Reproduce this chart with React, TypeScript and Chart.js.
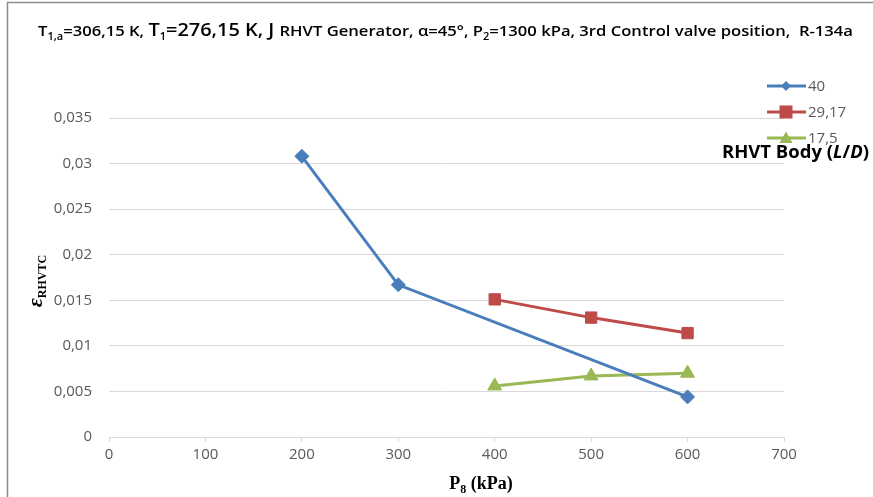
import React, { useEffect, useRef } from "react";
import { Chart, registerables } from "chart.js";

Chart.register(...registerables);

const seriesNames = ["40", "29,17", "17,5"];
const p8_40 = [200, 300, 600];
const eps_40 = [0.0308, 0.0167, 0.0044];
const p8_2917 = [400, 500, 600];
const eps_2917 = [0.0151, 0.0131, 0.0114];
const p8_175 = [400, 500, 600];
const eps_175 = [0.0056, 0.0067, 0.0070];
const colors = ["#4a7ebb", "#be4b48", "#98b954"];
const markers = ["rectRot", "rect", "triangle"];
const markerRadius = [7, 8, 8];

const W = 873;
const H = 497;

type Seg = { t: string; f: string; dy?: number };

function richWidth(ctx: CanvasRenderingContext2D, segs: Seg[]) {
  let w = 0;
  for (const s of segs) {
    ctx.font = s.f;
    w += ctx.measureText(s.t).width;
  }
  return w;
}

function drawRich(
  ctx: CanvasRenderingContext2D,
  segs: Seg[],
  x: number,
  y: number,
  color: string,
  targetWidth?: number
) {
  const w = richWidth(ctx, segs);
  const sx = targetWidth ? targetWidth / w : 1;
  ctx.save();
  ctx.translate(x, y);
  ctx.scale(sx, 1);
  ctx.fillStyle = color;
  ctx.textBaseline = "alphabetic";
  ctx.textAlign = "left";
  let cx = 0;
  for (const s of segs) {
    ctx.font = s.f;
    ctx.fillText(s.t, cx, s.dy || 0);
    cx += ctx.measureText(s.t).width;
  }
  ctx.restore();
  return w * sx;
}

const TF = "'Open Sans', 'Liberation Sans', sans-serif";
const HF = "'Liberation Sans Narrow', 'Open Sans', 'Liberation Sans', sans-serif";

function drawMarker(ctx: CanvasRenderingContext2D, type: string, x: number, y: number, r: number) {
  ctx.beginPath();
  if (type === "rectRot") {
    ctx.moveTo(x, y - r);
    ctx.lineTo(x + r, y);
    ctx.lineTo(x, y + r);
    ctx.lineTo(x - r, y);
  } else if (type === "rect") {
    ctx.rect(x - r, y - r, 2 * r, 2 * r);
  } else {
    ctx.moveTo(x, y - r);
    ctx.lineTo(x + r, y + r * 0.75);
    ctx.lineTo(x - r, y + r * 0.75);
  }
  ctx.closePath();
  ctx.fill();
}

const decorPlugin = {
  id: "decor",
  afterDraw(chart: any) {
    const ctx: CanvasRenderingContext2D = chart.ctx;
    ctx.save();
    // frame
    ctx.strokeStyle = "#8c8c8c";
    ctx.lineWidth = 1.5;
    ctx.beginPath();
    ctx.moveTo(7.5, H + 5);
    ctx.lineTo(7.5, 2.5);
    ctx.lineTo(W + 5, 2.5);
    ctx.stroke();

    // title
    const n = `600 15px ${TF}`;
    const nb = `600 18px ${TF}`;
    const sm = `600 10px ${TF}`;
    const title: Seg[] = [
      { t: "T", f: n },
      { t: "1,a", f: sm, dy: 4 },
      { t: "=306,15 K, ", f: n },
      { t: "T", f: nb },
      { t: "1", f: sm, dy: 4 },
      { t: "=276,15 K, J ", f: nb },
      { t: "RHVT Generator, α=45°, P", f: n },
      { t: "2", f: sm, dy: 4 },
      { t: "=1300 kPa, 3rd Control valve position,  R-134a", f: n },
    ];
    drawRich(ctx, title, 38, 36, "#000000", 815);

    // legend
    const ly = [86, 112, 138];
    for (let i = 0; i < 3; i++) {
      const y = ly[i];
      ctx.strokeStyle = colors[i];
      ctx.lineWidth = 3;
      ctx.beginPath();
      ctx.moveTo(767, y);
      ctx.lineTo(806, y);
      ctx.stroke();
      ctx.fillStyle = colors[i];
      drawMarker(ctx, markers[i], 786, y, i === 0 ? 5 : 6.5);
      ctx.fillStyle = "#595959";
      ctx.font = `15px ${TF}`;
      ctx.textBaseline = "middle";
      ctx.textAlign = "left";
      ctx.fillText(seriesNames[i], 808, y + 1);
    }
    // legend caption
    const cb = `bold 17px ${HF}`;
    const cbi = `italic bold 17px ${HF}`;
    drawRich(
      ctx,
      [
        { t: "RHVT Body (", f: cb },
        { t: "L", f: cbi },
        { t: "/", f: cb },
        { t: "D", f: cbi },
        { t: ")", f: cb },
      ],
      722,
      158,
      "#000000",
      147
    );

    // x axis title
    const xf = "bold 18px 'Liberation Serif', 'Times New Roman', serif";
    const xs = "bold 12px 'Liberation Serif', 'Times New Roman', serif";
    const xsegs: Seg[] = [
      { t: "P", f: xf },
      { t: "8", f: xs, dy: 4 },
      { t: " (kPa)", f: xf },
    ];
    const xw = richWidth(ctx, xsegs);
    drawRich(ctx, xsegs, 481 - xw / 2, 489, "#000000");

    // y axis title
    ctx.save();
    ctx.translate(42, 281);
    ctx.rotate(-Math.PI / 2);
    const ysegs: Seg[] = [
      { t: "ε", f: "italic bold 22px 'Liberation Serif', 'DejaVu Serif', serif" },
      { t: "RHVTC", f: "bold 12px 'Liberation Serif', serif", dy: 4 },
    ];
    const yw = richWidth(ctx, ysegs);
    drawRich(ctx, ysegs, -yw / 2, 0, "#000000");
    ctx.restore();

    ctx.restore();
  },
};

function fmtY(v: number) {
  return String(Number(v.toFixed(4))).replace(".", ",");
}

export default function App() {
  const ref = useRef<HTMLCanvasElement>(null);
  useEffect(() => {
    if (!ref.current) return;
    const xs = [p8_40, p8_2917, p8_175];
    const ys = [eps_40, eps_2917, eps_175];
    const datasets = seriesNames.map((name, i) => ({
      label: name,
      data: xs[i].map((x, j) => ({ x, y: ys[i][j] })),
      borderColor: colors[i],
      backgroundColor: colors[i],
      borderWidth: 3,
      pointStyle: markers[i] as any,
      pointRadius: markerRadius[i],
      pointBorderWidth: 1,
      showLine: true,
      tension: 0,
    }));
    const chart = new Chart(ref.current, {
      type: "scatter",
      data: { datasets },
      options: {
        responsive: false,
        animation: false,
        devicePixelRatio: 1,
        layout: { padding: { top: 118, right: 89, bottom: 0, left: 0 } },
        plugins: {
          legend: { display: false },
          tooltip: { enabled: false },
        },
        scales: {
          x: {
            type: "linear",
            min: 0,
            max: 700,
            ticks: {
              stepSize: 100,
              color: "#595959",
              font: { size: 15, family: TF },
              padding: 4,
            },
            grid: {
              drawOnChartArea: false,
              drawTicks: true,
              tickLength: 5,
              color: "#d9d9d9",
            },
            border: { color: "#d9d9d9", width: 1 },
            afterFit: (s: any) => {
              s.height = 60;
            },
          },
          y: {
            type: "linear",
            min: 0,
            max: 0.035,
            ticks: {
              stepSize: 0.005,
              color: "#595959",
              font: { size: 15, family: TF },
              padding: 17,
              callback: (v: any) => fmtY(Number(v)),
            },
            grid: { color: "#d9d9d9", drawTicks: false },
            border: { display: false },
            afterFit: (s: any) => {
              s.width = 109;
            },
          },
        },
      },
      plugins: [decorPlugin],
    });
    return () => chart.destroy();
  }, []);
  return (
    <div style={{ position: "fixed", left: 0, top: 0, width: W, height: H, background: "#fff" }}>
      <canvas ref={ref} width={W} height={H} style={{ width: W, height: H }} />
    </div>
  );
}
